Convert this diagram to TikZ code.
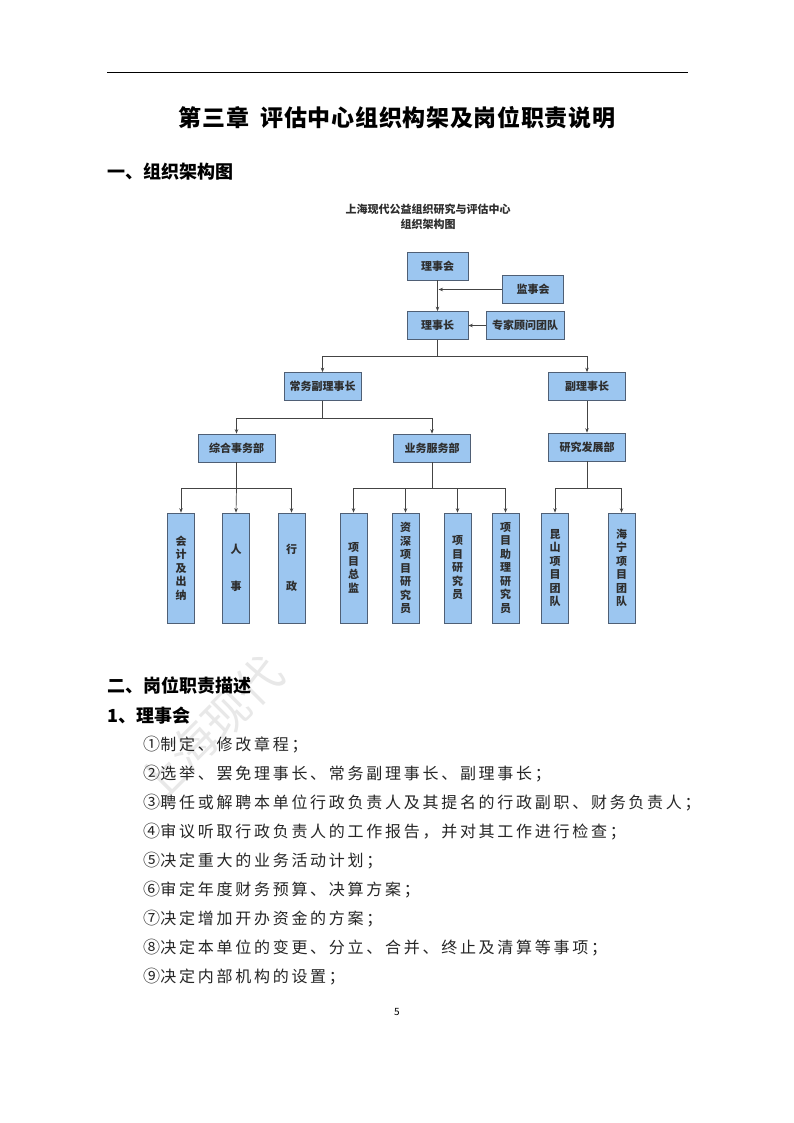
\documentclass[tikz,border=0pt]{standalone}
\usepackage{fontspec}
\newfontfamily\cjk{Noto Sans CJK SC}
\usetikzlibrary{arrows.meta,calc}
\definecolor{boxfill}{HTML}{9CC6F0}
\definecolor{boxline}{HTML}{4F5F75}
\definecolor{conn}{HTML}{444444}
\definecolor{lbl}{HTML}{2E2E2E}
\newcommand{\circno}[1]{\makebox[1.08em][l]{\fontsize{17}{18}\selectfont #1}}
\tikzset{
  orgbox/.style={draw=boxline, fill=boxfill, line width=0.7pt, inner sep=0pt,
    font=\cjk\bfseries\fontsize{11}{13.5}\selectfont, text=lbl, align=center},
  hbox/.style={orgbox, minimum width=61pt, minimum height=28pt},
  wbox/.style={orgbox, minimum width=77pt, minimum height=28pt},
  vbox/.style={orgbox, minimum width=27pt, minimum height=110pt},
  link/.style={draw=conn, line width=0.7pt},
  arr/.style={link, -{Stealth[length=4.5pt,width=3.5pt]}},
  item/.style={anchor=west, inner sep=0pt, text=black!85,
    font=\cjk\fontsize{16}{18}\selectfont\addfontfeature{LetterSpace=17}},
  head/.style={anchor=west, inner sep=0pt, font=\cjk\bfseries\fontsize{18}{20}\selectfont}
}
\begin{document}
\begin{tikzpicture}[x=1pt,y=-1pt]
\path[fill=white] (0,0) rectangle (794,1123);
\useasboundingbox (0,0) rectangle (794,1123);

% watermark
\node[rotate=45, text=gray!18, font=\cjk\fontsize{46}{50}\selectfont, inner sep=0pt] (wm) at (210,730) {上海现代};

% header rule
\coordinate (hl) at (107,72);
\coordinate (hr) at (688,72);
\draw[line width=0.8pt] (hl) -- (hr);

% title
\node[inner sep=0pt, font=\cjk\bfseries\fontsize{23}{26}\selectfont\addfontfeature{LetterSpace=3}] (title) at (397,118) {第三章\hspace{0.5em}评估中心组织构架及岗位职责说明};

\node[head] (s1) at (107,172) {一、组织架构图};

% chart title
\node[inner sep=0pt, align=center, text=lbl, font=\cjk\bfseries\fontsize{11}{15}\selectfont] (ctitle) at (428,217) {上海现代公益组织研究与评估中心\\组织架构图};

% boxes
\node[hbox] (lsh) at (437.5,266) {理事会};
\node[hbox] (jsh) at (533,289.5) {监事会};
\node[hbox] (lsz) at (437.5,325.5) {理事长};
\node[orgbox, minimum width=78pt, minimum height=28pt] (zj) at (525,325.5) {专家顾问团队};

\node[wbox] (cw) at (322.5,386.5) {常务副理事长};
\node[wbox] (fl) at (587,386.5) {副理事长};

\node[wbox] (zh) at (236.5,448) {综合事务部};
\node[wbox] (yw) at (432,448) {业务服务部};
\node[wbox] (yf) at (587,447) {研究发展部};

\node[vbox] (kj) at (181,568) {会\\计\\及\\出\\纳};
\node[vbox] (rs) at (236,568) {人\\[24pt]事};
\node[vbox] (xz) at (291.5,568) {行\\[24pt]政};
\node[vbox] (zjn) at (353.5,568) {项\\目\\总\\监};
\node[vbox] (zs) at (405.5,568) {资\\深\\项\\目\\研\\究\\员};
\node[vbox] (yj) at (457.5,568) {项\\目\\研\\究\\员};
\node[vbox] (zl) at (505.5,568) {项\\目\\助\\理\\研\\究\\员};
\node[vbox] (ks) at (555,568) {昆\\山\\项\\目\\团\\队};
\node[vbox] (hn) at (621.5,568) {海\\宁\\项\\目\\团\\队};

% connectors
\draw[arr] (lsh.south) -- (lsz.north);
\coordinate (jp) at ($(lsh.south)!(jsh.west)!(lsz.north)$);
\draw[arr] (jsh.west) -- ([xshift=1pt]jp);
\draw[arr] (zj.west) -- (lsz.east);

\coordinate (b1) at (437.5,356);
\draw[link] (lsz.south) -- (b1);
\draw[arr] (b1) -| (cw.north);
\draw[arr] (b1) -| (fl.north);

\coordinate (b2) at (322.5,418);
\draw[link] (cw.south) -- (b2);
\draw[arr] (b2) -| (zh.north);
\draw[arr] (b2) -| (yw.north);

\draw[arr] (fl.south) -- (yf.north);

\coordinate (b3) at (236.5,488);
\draw[link] (zh.south) -- (b3);
\draw[arr] (b3) -| (kj.north);
\draw[arr] (b3) -- (rs.north);
\draw[arr] (b3) -| (xz.north);

\coordinate (b4) at (432,488);
\draw[link] (yw.south) -- (b4);
\draw[arr] (b4) -| (zjn.north);
\draw[arr] (b4) -| (zs.north);
\draw[arr] (b4) -| (yj.north);
\draw[arr] (b4) -| (zl.north);

\coordinate (b5) at (587,488);
\draw[link] (yf.south) -- (b5);
\draw[arr] (b5) -| (ks.north);
\draw[arr] (b5) -| (hn.north);

% section 2
\node[head] (s2) at (107,686) {二、岗位职责描述};
\node[head] (s21) at (107,716) {1、理事会};

\node[item] (i1) at (143,745) {\circno{①}制定、修改章程；};
\node[item] (i2) at (143,774) {\circno{②}选举、罢免理事长、常务副理事长、副理事长；};
\node[item] (i3) at (143,803) {\circno{③}聘任或解聘本单位行政负责人及其提名的行政副职、财务负责人；};
\node[item] (i4) at (143,832) {\circno{④}审议听取行政负责人的工作报告，并对其工作进行检查；};
\node[item] (i5) at (143,861) {\circno{⑤}决定重大的业务活动计划；};
\node[item] (i6) at (143,890) {\circno{⑥}审定年度财务预算、决算方案；};
\node[item] (i7) at (143,919) {\circno{⑦}决定增加开办资金的方案；};
\node[item] (i8) at (143,948) {\circno{⑧}决定本单位的变更、分立、合并、终止及清算等事项；};
\node[item] (i9) at (143,977) {\circno{⑨}决定内部机构的设置；};

\node[inner sep=0pt, font=\cjk\fontsize{10}{12}\selectfont] (pg) at (397,1012) {5};
\end{tikzpicture}
\end{document}
